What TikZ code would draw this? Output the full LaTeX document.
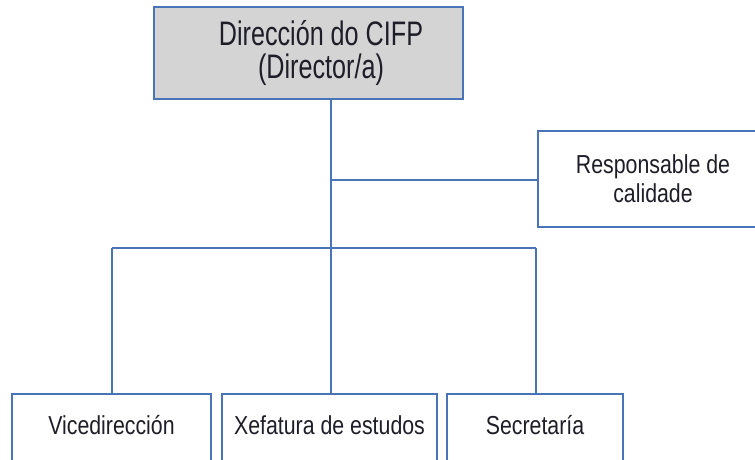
\documentclass[tikz,border=0pt]{standalone}
\usepackage{fontspec}
\setmainfont{Liberation Sans}
\newfontfamily\topfont[FakeStretch=0.74]{Liberation Sans}
\newfontfamily\boxfont[FakeStretch=0.82]{Liberation Sans}
\definecolor{lineblue}{RGB}{74,116,184}
\definecolor{boxgray}{RGB}{212,212,212}
\definecolor{txt}{RGB}{30,30,40}
\tikzset{
  orgbox/.style={draw=lineblue, line width=1.8pt, fill=white, inner sep=0pt},
  toptext/.style={font=\topfont\fontsize{34}{33}\selectfont, text=txt, align=center, inner sep=0pt},
  boxtext/.style={font=\boxfont\fontsize{26}{29}\selectfont, text=txt, align=center, inner sep=0pt},
  conn/.style={draw=lineblue, line width=1.8pt}
}
\begin{document}
\begin{tikzpicture}[x=1pt,y=-1pt]
\useasboundingbox (0,0) rectangle (755,459);
\clip (0,0) rectangle (755,459);
% boxes
\node[orgbox, fill=boxgray, minimum width=309pt, minimum height=92pt] (top) at (308.5,53) {};
\node[toptext] (toptxt) at (321,53) {Dirección do CIFP\\(Director/a)};
\node[orgbox, minimum width=230pt, minimum height=96pt] (resp) at (653,179) {};
\node[boxtext] (resptxt) at (653,179) {Responsable de\\calidade};
\node[orgbox, minimum width=199pt, minimum height=90pt] (vice) at (111.5,439) {};
\node[boxtext] (vicetxt) at (111.5,425) {Vicedirección};
\node[orgbox, minimum width=215pt, minimum height=90pt] (xef) at (329.5,439) {};
\node[boxtext] (xeftxt) at (329.5,425) {Xefatura de estudos};
\node[orgbox, minimum width=176pt, minimum height=90pt] (sec) at (535,439) {};
\node[boxtext] (sectxt) at (535,425) {Secretaría};
% connectors
\coordinate (bL) at (112,248);
\coordinate (bM) at (331,248);
\coordinate (bR) at (536,248);
\coordinate (rj) at (331,180);
\draw[conn] (bM |- top.south) -- (bM);
\draw[conn] (rj) -- (rj -| resp.west);
\draw[conn] (bL) -- (bR);
\draw[conn] (bL) -- (bL |- vice.north);
\draw[conn] (bM) -- (bM |- xef.north);
\draw[conn] (bR) -- (bR |- sec.north);
\end{tikzpicture}
\end{document}
